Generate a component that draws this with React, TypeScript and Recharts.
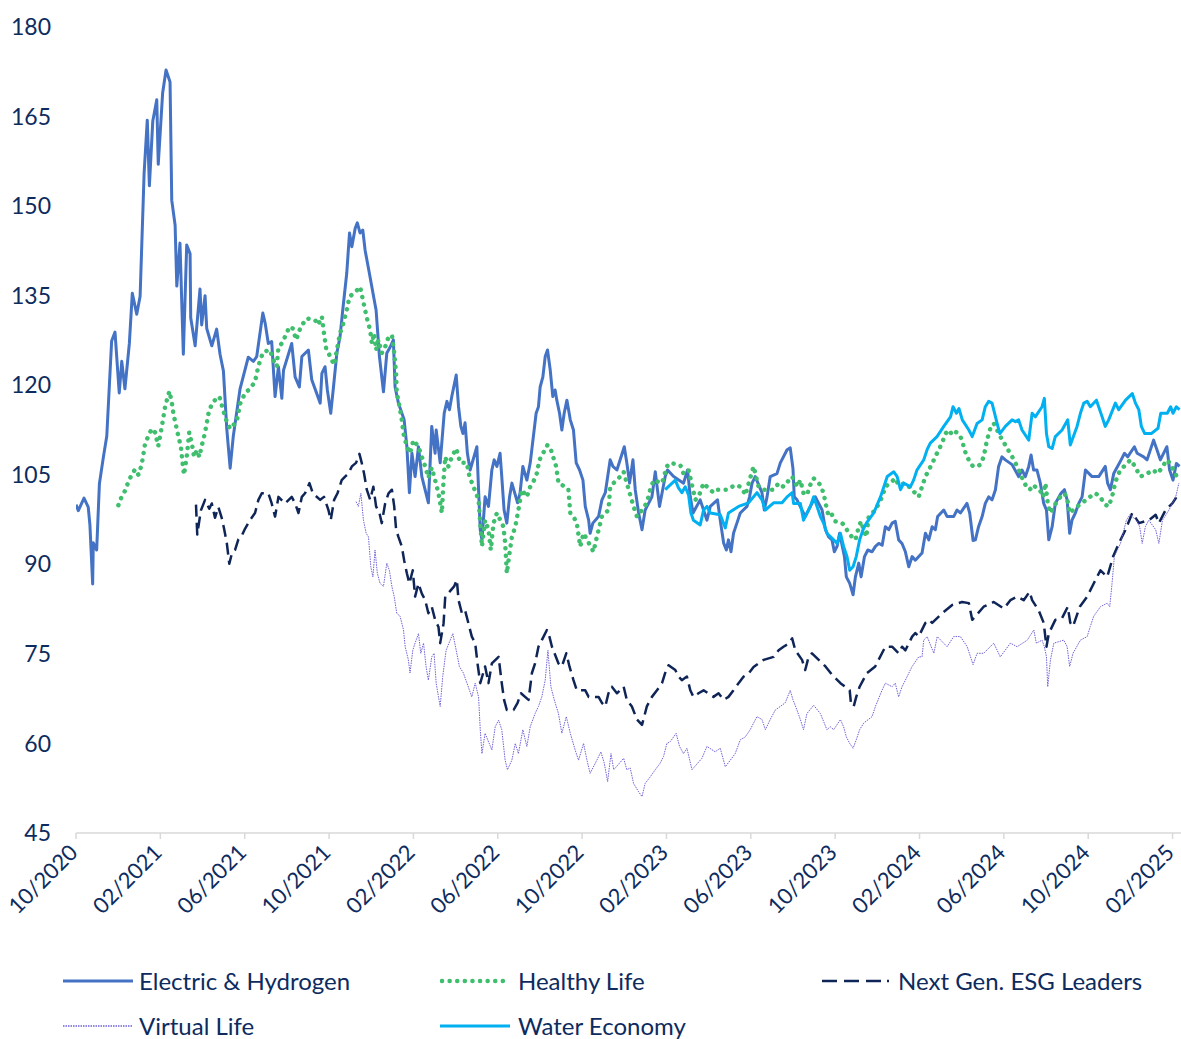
import React from 'react';
import { LineChart, Line, XAxis, YAxis, Legend } from 'recharts';

// x = months since 1 Oct 2020, y = index level (start = 100)
const electricHydrogen: [number, number][] = [
  [0, 100], [0.11, 99], [0.38, 101.1], [0.58, 99.6], [0.66, 96.6], [0.79, 86.7], [0.82, 93.6], [0.98, 92.4],
  [1.11, 103.5], [1.3, 108], [1.46, 111.5], [1.69, 127.4], [1.85, 128.9], [2.05, 118.7], [2.17, 124], [2.32, 119.4],
  [2.53, 127], [2.67, 135.4], [2.88, 131.9], [3.04, 134.9], [3.23, 155.5], [3.38, 164.4], [3.48, 153.4], [3.64, 164.2],
  [3.83, 167.8], [3.9, 157], [4.11, 169], [4.27, 172.8], [4.46, 170.8], [4.54, 151], [4.7, 146.8], [4.78, 136.6],
  [4.93, 143.8], [5.09, 125.2], [5.25, 143.5], [5.41, 142], [5.44, 131.3], [5.65, 126.6], [5.88, 136.1], [5.96, 130.1],
  [6.12, 135], [6.2, 129.5], [6.44, 126.6], [6.67, 129.4], [6.83, 125.2], [6.99, 122.4], [7.15, 112.7], [7.31, 106.1],
  [7.46, 111.5], [7.78, 119.4], [8.17, 124.7], [8.41, 124], [8.57, 124.8], [8.86, 132.1], [8.97, 130.4], [9.12, 127],
  [9.28, 127.3], [9.44, 118.1], [9.6, 123.1], [9.76, 117.8], [9.84, 122.5], [10.23, 127], [10.39, 121.4], [10.59, 119.7],
  [10.71, 124.8], [11.02, 125.9], [11.18, 120.9], [11.58, 117], [11.66, 122], [11.81, 123.1], [11.92, 119.2], [12.08, 115.3],
  [12.21, 119.7], [12.37, 125.4], [12.52, 128.1], [12.65, 132.6], [12.84, 138.8], [12.97, 145.5], [13.08, 143.2], [13.24, 146.3],
  [13.34, 147.2], [13.47, 145.5], [13.6, 146], [13.71, 142.6], [13.91, 138.8], [14.14, 134.3], [14.23, 132.6], [14.39, 124.8],
  [14.58, 118.9], [14.74, 125.4], [14.9, 126.4], [15.05, 127.6], [15.13, 119.7], [15.29, 117], [15.56, 114.2], [15.69, 109.7],
  [15.81, 102], [15.93, 108.6], [16.08, 104.7], [16.24, 109.7], [16.4, 104.7], [16.71, 100.3], [16.87, 113.1], [17.03, 108.6],
  [17.08, 112.5], [17.27, 107], [17.46, 115.3], [17.59, 117.3], [17.71, 115.9], [17.82, 118.1], [18.03, 121.7], [18.14, 116.4],
  [18.25, 113.1], [18.35, 111.9], [18.45, 113.7], [18.56, 108.6], [18.69, 105.8], [19.01, 109.7], [19.09, 102.5], [19.17, 95.8],
  [19.25, 94.1], [19.4, 101.3], [19.56, 99.7], [19.72, 105.8], [19.83, 107.5], [19.96, 106.4], [20.11, 108.6], [20.19, 104.7],
  [20.3, 99.1], [20.43, 96.9], [20.56, 101.3], [20.67, 103.6], [20.94, 100.3], [21.06, 102], [21.19, 106.4], [21.38, 104.1],
  [21.54, 107], [21.82, 115.3], [21.93, 116.4], [22.01, 119.7], [22.14, 121.4], [22.25, 124.8], [22.36, 125.9], [22.49, 122.5],
  [22.61, 118.1], [22.72, 119.2], [22.8, 117.5], [22.93, 115.3], [23.04, 112.5], [23.15, 115.3], [23.28, 117.5], [23.44, 114.2],
  [23.59, 112.5], [23.72, 107], [23.88, 105.8], [24.04, 104.1], [24.15, 99.7], [24.31, 97.4], [24.38, 95.2], [24.51, 96.9],
  [24.78, 98], [24.94, 100.8], [25.1, 102], [25.33, 107.5], [25.46, 106.4], [25.65, 105.8], [26, 109.7], [26.12, 107],
  [26.25, 103.6], [26.41, 107.5], [26.52, 102.5], [26.68, 98.6], [26.84, 95.8], [26.99, 99.1], [27.31, 101.3], [27.47, 105.5],
  [27.67, 99.7], [27.94, 104.7], [28.05, 105.8], [28.34, 104.7], [28.81, 103.6], [29, 105.8], [29.13, 101.3], [29.26, 98.6],
  [29.6, 100.8], [29.92, 97.4], [30.08, 99.7], [30.42, 100.8], [30.55, 97.4], [30.71, 93.6], [30.84, 92.4], [30.94, 94.1],
  [31.06, 92.1], [31.18, 95.2], [31.34, 96.9], [31.5, 98.6], [31.82, 99.7], [31.94, 101.3], [32.06, 103.6], [32.21, 104.7],
  [32.53, 102], [32.64, 99.1], [32.77, 101.3], [32.92, 104.7], [33.24, 105.2], [33.4, 107], [33.72, 109.2], [33.87, 109.5],
  [34, 106], [34.06, 101.3], [34.19, 100.8], [34.58, 98], [34.74, 99.1], [34.9, 100.2], [35.06, 101.3], [35.22, 100.2],
  [35.38, 99.1], [35.54, 95.8], [35.69, 94.6], [35.85, 94.1], [35.96, 92.1], [36.09, 93], [36.21, 95.2], [36.44, 91.3],
  [36.53, 87.9], [36.69, 86.8], [36.85, 84.9], [36.96, 87.9], [37.12, 90.2], [37.23, 87.9], [37.39, 91.3], [37.55, 92.4],
  [37.75, 92.1], [37.91, 93], [38.07, 93.5], [38.23, 93.2], [38.38, 96.3], [38.54, 95.8], [38.7, 96.9], [38.85, 97.2],
  [39.01, 94.1], [39.17, 93.5], [39.33, 92.1], [39.49, 89.6], [39.65, 91.3], [39.8, 90.7], [40.12, 91.9], [40.28, 95.2],
  [40.44, 94.1], [40.6, 96.3], [40.75, 95.8], [40.86, 98], [41.15, 99.1], [41.31, 98], [41.62, 98], [41.78, 99.1],
  [41.94, 98.6], [42.25, 100.2], [42.38, 98.6], [42.54, 94], [42.65, 94.1], [42.8, 96.3], [42.97, 98], [43.12, 100.2],
  [43.28, 101.3], [43.44, 100.8], [43.6, 102.5], [43.75, 106.4], [43.91, 108], [44.07, 107.5], [44.39, 106.7], [44.7, 104.7],
  [44.86, 105.8], [45.02, 104.7], [45.18, 106.4], [45.29, 108.3], [45.41, 105.8], [45.57, 105.8], [45.73, 103.6], [45.89, 100.2],
  [46.02, 99.1], [46.13, 94.1], [46.29, 96.3], [46.44, 100.2], [46.71, 101.9], [46.87, 102.5], [47, 100.8], [47.12, 95.2],
  [47.23, 97.4], [47.39, 98.6], [47.55, 100.2], [47.71, 101.3], [47.87, 105.8], [48.18, 104.7], [48.5, 104.7], [48.81, 106.4],
  [48.92, 103.6], [49.05, 102.5], [49.21, 105.2], [49.56, 107.5], [49.72, 108.6], [49.87, 108], [50.19, 109.7], [50.32, 108.6],
  [50.63, 108], [50.79, 107.5], [51.1, 110.8], [51.26, 109.2], [51.42, 107.5], [51.73, 109.7], [51.86, 105.8], [52.02, 104.1],
  [52.18, 106.9], [52.33, 106.4],
];

const healthyLife: [number, number][] = [
  [2.01, 99.9], [2.17, 101.4], [2.32, 102.3], [2.48, 103.8], [2.64, 105], [2.8, 105.9], [2.96, 105], [3.07, 106.2],
  [3.16, 107.6], [3.27, 110.1], [3.43, 111.5], [3.59, 112.7], [3.75, 112.1], [3.9, 109.8], [4.02, 112.1], [4.11, 113.9],
  [4.22, 116.3], [4.33, 117.8], [4.43, 119], [4.54, 117.2], [4.62, 115.2], [4.74, 113.3], [4.85, 111.5], [4.97, 109.8],
  [5.06, 106.8], [5.12, 105], [5.25, 108], [5.37, 112.1], [5.49, 110.3], [5.6, 108], [5.73, 109.1], [5.85, 108],
  [5.96, 109.8], [6.12, 112.1], [6.28, 115.2], [6.44, 116.9], [6.59, 117.5], [6.8, 118.1], [6.99, 115.7], [7.15, 113.9],
  [7.31, 112.7], [7.46, 113.3], [7.62, 113.9], [7.78, 116.9], [8.02, 118.7], [8.25, 119.4], [8.49, 120.6], [8.57, 122],
  [8.73, 124.2], [8.89, 125.6], [9.2, 125.9], [9.36, 124.2], [9.52, 123.1], [9.6, 126.4], [9.76, 127], [9.99, 128.7],
  [10.12, 129.8], [10.28, 129.5], [10.44, 127.6], [10.63, 129.5], [10.78, 130.4], [10.94, 131.2], [11.34, 130.9], [11.49, 130.1],
  [11.66, 131.5], [11.76, 128.7], [11.86, 126.2], [11.97, 125.4], [12.24, 123.4], [12.37, 125.9], [12.52, 128.7], [12.68, 130.4],
  [12.84, 132.6], [12.97, 134.8], [13.16, 135.4], [13.32, 135.9], [13.47, 136.5], [13.71, 132.6], [13.82, 130.9], [13.95, 129.2],
  [14.03, 127], [14.14, 128.7], [14.23, 125.9], [14.34, 127.6], [14.5, 125.4], [14.66, 126.4], [14.82, 128.1], [14.98, 128.4],
  [15.09, 125.4], [15.18, 122], [15.21, 118.6], [15.29, 117.5], [15.45, 114.2], [15.53, 111.9], [15.69, 109.7], [15.84, 108.6],
  [16, 110.8], [16.24, 109.7], [16.4, 108], [16.56, 106.4], [16.71, 104.5], [16.87, 106.2], [17.03, 104.1], [17.19, 101.9],
  [17.35, 98.6], [17.43, 104.1], [17.51, 108], [17.66, 106.4], [17.82, 108], [18.03, 109.4], [18.22, 107], [18.53, 107],
  [18.66, 104.7], [18.85, 103], [19.09, 100.8], [19.17, 96.9], [19.25, 93], [19.4, 97.4], [19.56, 95.8], [19.67, 92.4],
  [19.8, 96.9], [19.96, 98.6], [20.27, 96.3], [20.35, 93.6], [20.43, 88.5], [20.56, 91.9], [20.67, 94.6], [20.83, 96.3],
  [20.98, 99.1], [21.14, 102.5], [21.38, 101.3], [21.54, 103], [21.82, 104.7], [21.98, 107.5], [22.36, 110], [22.52, 109.2],
  [22.77, 106.4], [22.88, 103.6], [23.2, 103], [23.35, 102.5], [23.44, 98.6], [23.59, 98], [23.75, 96.9], [23.91, 93],
  [24.07, 95.2], [24.54, 92.1], [24.7, 94.6], [24.94, 98], [25.25, 99.1], [25.33, 102.8], [25.49, 103.6], [25.81, 104.7],
  [25.97, 105.5], [26.12, 103.6], [26.44, 99.7], [26.6, 98], [26.84, 99.1], [27.07, 100.3], [27.23, 102.5], [27.39, 104.1],
  [27.79, 103.6], [28.02, 106.4], [28.18, 107], [28.66, 106.6], [28.81, 105.2], [29.05, 105.8], [29.37, 100.8], [29.52, 101.3],
  [29.76, 103.6], [29.92, 103], [30.23, 102], [30.39, 102.5], [30.87, 102.5], [31.11, 103], [31.34, 103.3], [31.58, 102.8],
  [31.74, 101.6], [32.13, 106.4], [32.37, 103], [32.61, 102.5], [33.08, 102.5], [33.32, 103.6], [33.55, 103], [33.81, 104.1],
  [33.96, 104.7], [34.2, 103], [34.35, 104.1], [34.5, 101.9], [34.66, 101.6], [34.82, 103.3], [34.98, 104.4], [35.3, 103.3],
  [35.45, 101.9], [35.58, 99.7], [35.69, 98], [35.85, 98.3], [36.01, 97.2], [36.33, 96.9], [36.48, 96.3], [36.64, 95.2],
  [36.8, 94.6], [36.96, 94.1], [37.12, 96.3], [37.23, 97.2], [37.35, 95.8], [37.48, 94.6], [37.59, 98], [37.91, 99.1],
  [38.07, 100.2], [38.23, 101.3], [38.38, 103], [38.7, 103.9], [38.85, 104.4], [39.01, 103.3], [39.33, 103.6], [39.65, 102.5],
  [39.8, 101.9], [39.96, 101.3], [40.12, 103], [40.28, 104.7], [40.44, 105.8], [40.6, 106.9], [40.75, 108], [40.91, 109.2],
  [41.07, 110.3], [41.23, 111.9], [41.39, 112.5], [41.55, 111.7], [41.7, 112.2], [41.86, 111.9], [42.02, 110.8], [42.13, 109.2],
  [42.26, 108], [42.41, 107], [42.54, 106.4], [42.73, 106.4], [42.89, 106.7], [43.04, 108], [43.2, 110.8], [43.36, 112.8],
  [43.52, 113.6], [43.68, 112.5], [43.83, 111.4], [43.99, 110.5], [44.15, 109.4], [44.31, 108.6], [44.47, 107.5], [44.63, 106.4],
  [44.78, 105.2], [44.91, 104.1], [45.07, 103], [45.23, 102.5], [45.39, 103.3], [45.54, 102.8], [45.7, 102.5], [45.86, 101.3],
  [45.97, 103.6], [46.08, 100.2], [46.21, 98.6], [46.37, 99.7], [46.52, 100.5], [46.68, 101.3], [46.87, 101.9], [47, 101],
  [47.12, 98.6], [47.28, 99.1], [47.6, 100], [47.98, 101], [48.3, 101.9], [48.5, 101.6], [48.81, 100], [48.97, 99.7],
  [49.13, 101.3], [49.24, 103], [49.37, 104.7], [49.53, 105.8], [49.84, 106.9], [50, 107.5], [50.16, 106.7], [50.48, 104.7],
  [50.79, 105.2], [51.1, 105.8], [51.26, 105.2], [51.42, 105.8], [51.73, 107.5], [51.89, 106.9], [52.04, 105.8], [52.2, 104.7],
  [52.35, 104.1],
];

const nextGenEsg: [number, number][] = [
  [5.69, 100], [5.75, 95], [5.92, 99], [6.12, 100.8], [6.32, 99.3], [6.44, 100.2], [6.59, 97.8], [6.75, 99.6],
  [6.91, 97.8], [7.02, 96], [7.15, 93.6], [7.27, 90.1], [7.39, 91.8], [7.54, 92.4], [7.7, 94.2], [7.86, 94.8],
  [8.02, 96], [8.25, 97.4], [8.49, 98.6], [8.65, 100.8], [8.81, 101.9], [9.12, 101.9], [9.28, 100.2], [9.44, 98],
  [9.6, 101.3], [9.91, 100.2], [10.23, 101.3], [10.39, 100.2], [10.55, 98.6], [10.71, 101.3], [10.86, 101.9], [11.07, 103.6],
  [11.23, 101.9], [11.58, 100.8], [11.76, 101.3], [11.97, 99.1], [12.08, 97.4], [12.24, 100.8], [12.4, 101.9], [12.6, 104.1],
  [12.76, 104.7], [12.92, 105.2], [13.08, 106.4], [13.28, 107], [13.44, 108.5], [13.55, 107], [13.66, 105.2], [13.79, 102.5],
  [13.95, 100.8], [14.1, 103], [14.23, 99.7], [14.39, 98.6], [14.5, 96.9], [14.66, 100.2], [14.82, 101.9], [14.98, 102.5],
  [15.09, 99.7], [15.18, 95.8], [15.29, 94.6], [15.45, 93], [15.56, 90.7], [15.69, 88.5], [15.81, 86.8], [15.97, 89],
  [16.08, 84.6], [16.24, 86.8], [16.4, 85.1], [16.56, 84], [16.71, 81.8], [16.87, 82.9], [17.03, 80.7], [17.19, 79.5],
  [17.27, 76.8], [17.43, 80.1], [17.51, 84.6], [17.66, 85.2], [17.93, 86.3], [18.06, 87.4], [18.14, 84], [18.3, 81.8],
  [18.45, 82.3], [18.61, 80.1], [18.77, 77.9], [18.93, 76.8], [19.04, 73.4], [19.17, 70.1], [19.4, 72.9], [19.56, 70.1],
  [19.72, 73.4], [20.04, 74.5], [20.19, 70.1], [20.3, 67.3], [20.43, 65.6], [20.75, 65.6], [20.94, 66.8], [21.1, 68.4],
  [21.46, 67.3], [21.62, 71.8], [21.77, 73.4], [21.93, 76.2], [22.09, 77.3], [22.33, 79], [22.45, 77.9], [22.57, 76.2],
  [22.88, 73.4], [23.04, 72.9], [23.25, 75.1], [23.4, 72.9], [23.59, 70.6], [23.75, 68.9], [24.15, 68.9], [24.31, 67.8],
  [24.78, 67.8], [24.94, 66.8], [25.1, 66.2], [25.25, 68.4], [25.41, 69.5], [25.65, 68.4], [25.97, 69.5], [26.12, 67.3],
  [26.36, 66.2], [26.6, 64], [26.84, 63.1], [27.07, 66.2], [27.31, 67.8], [27.55, 68.9], [27.79, 70.1], [27.94, 71.8],
  [28.1, 73.1], [28.42, 72.3], [28.57, 71.2], [28.73, 70.6], [28.97, 71.2], [29.13, 68.9], [29.28, 67.8], [29.52, 68.4],
  [29.76, 68.9], [30.23, 67.8], [30.47, 68.4], [30.71, 67.3], [30.94, 67.8], [31.18, 68.9], [31.42, 70.1], [31.66, 71.2],
  [31.89, 71.7], [32.13, 72.8], [32.37, 73.4], [32.61, 74], [33.08, 74.5], [33.32, 75.6], [33.55, 76.2], [33.79, 76.7],
  [33.96, 77.6], [34.11, 75.6], [34.43, 74], [34.58, 72.3], [34.74, 74.5], [34.9, 75.1], [35.22, 74], [35.54, 72.9],
  [35.85, 71.5], [36.25, 70.1], [36.69, 68.9], [36.75, 66.7], [36.88, 66.2], [37, 67.8], [37.16, 69.5], [37.51, 71.8],
  [37.9, 72.9], [38.22, 75.1], [38.38, 76.2], [38.7, 76.2], [39.01, 75.1], [39.17, 76.2], [39.33, 75.6], [39.65, 77.9],
  [39.8, 78.5], [39.96, 77.9], [40.28, 80.2], [40.44, 80.7], [40.6, 80.2], [41.07, 81.8], [41.55, 83.2], [42.02, 83.7],
  [42.34, 83.5], [42.5, 80.7], [42.65, 81.3], [43.04, 82.9], [43.52, 83.7], [44, 82.6], [44.31, 84], [44.63, 84.6],
  [44.94, 84], [45.22, 85.4], [45.34, 84], [45.65, 82.3], [45.89, 80.2], [46.02, 76.2], [46.13, 78.4], [46.44, 80.7],
  [46.76, 81], [47.03, 82.9], [47.15, 80.2], [47.28, 79.6], [47.6, 82.9], [47.95, 84.6], [48.26, 86.8], [48.58, 89],
  [48.9, 87.9], [49.18, 91.3], [49.45, 93.5], [49.77, 95.8], [50.09, 98.6], [50.41, 96.9], [50.88, 97.4], [51.2, 98.3],
  [51.35, 96.9], [51.67, 99.1], [51.99, 100.2], [52.3, 101.9],
];

const virtualLife: [number, number][] = [
  [13.28, 100.5], [13.39, 99.7], [13.51, 101.9], [13.63, 97.4], [13.76, 95.2], [13.87, 94.6], [13.98, 89.6], [14.08, 87.9],
  [14.18, 92.4], [14.29, 88.5], [14.42, 86.8], [14.58, 86.3], [14.74, 90.2], [14.86, 89], [14.98, 86.3], [15.09, 84.6],
  [15.21, 81.8], [15.37, 81.3], [15.53, 79], [15.61, 76.2], [15.76, 74], [15.84, 71.8], [15.97, 75.6], [16.08, 76.8],
  [16.24, 78.4], [16.35, 75.1], [16.48, 76.8], [16.6, 72.9], [16.71, 70.6], [16.87, 74.5], [16.98, 75.1], [17.08, 70.1],
  [17.19, 67.8], [17.27, 66.2], [17.39, 71.2], [17.55, 75.6], [17.87, 78.4], [18.03, 75.6], [18.18, 72.9], [18.37, 71.8],
  [18.77, 67.8], [18.93, 70.1], [19.09, 67.8], [19.17, 62.3], [19.25, 58.3], [19.4, 61.7], [19.72, 58.9], [19.88, 62.8],
  [20.04, 63.9], [20.19, 62.3], [20.35, 57.2], [20.46, 55.6], [20.67, 57.2], [20.83, 60], [20.98, 58.3], [21.19, 62.3],
  [21.38, 59.5], [21.54, 62.8], [21.77, 65], [21.93, 66.2], [22.09, 67.8], [22.25, 70.6], [22.38, 75.6], [22.52, 69.5],
  [22.68, 67.3], [22.88, 65], [23.04, 61.7], [23.25, 64.5], [23.44, 61.7], [23.67, 58.9], [23.83, 57.2], [24.07, 60],
  [24.23, 57.2], [24.38, 55], [24.7, 57.2], [24.89, 58.6], [25.05, 56.7], [25.21, 53.6], [25.37, 58.3], [25.5, 55.6],
  [25.97, 57.5], [26.12, 55.6], [26.28, 55.9], [26.44, 53.3], [26.68, 51.9], [26.84, 51.1], [26.99, 53.3], [27.23, 54.4],
  [27.47, 55.6], [27.7, 56.7], [27.86, 57.8], [28.02, 60], [28.18, 60.3], [28.46, 61.7], [28.62, 59.5], [28.81, 58.3],
  [28.97, 59.2], [29.21, 55.6], [29.68, 57.5], [29.92, 59.5], [30.31, 58.6], [30.55, 59.2], [30.79, 56.1], [31.03, 57.2],
  [31.26, 58.3], [31.5, 60.6], [31.74, 61.1], [31.97, 62.3], [32.29, 64.5], [32.53, 64], [32.69, 62.3], [32.92, 64],
  [33.16, 65.6], [33.4, 66.2], [33.63, 66.8], [33.87, 68.9], [34, 67.3], [34.19, 65.6], [34.35, 64], [34.5, 62.3],
  [34.66, 65], [34.98, 66.4], [35.3, 65], [35.61, 62.3], [35.77, 62.8], [35.93, 62.3], [36.25, 64], [36.4, 62.8],
  [36.53, 61.1], [36.69, 60], [36.85, 59.2], [37, 60.6], [37.16, 62.3], [37.35, 63.4], [37.75, 64.5], [37.91, 66.2],
  [38.22, 68.9], [38.38, 70.1], [38.7, 69.5], [38.85, 70.1], [39.01, 67.8], [39.17, 69.5], [39.33, 70.6], [39.65, 72.9],
  [39.96, 74.5], [40.12, 74.5], [40.2, 77.3], [40.36, 77.9], [40.68, 75.1], [40.84, 77.9], [41.31, 76.2], [41.62, 77.9],
  [41.94, 77.9], [42.26, 76.2], [42.54, 73.2], [42.73, 75.1], [43.04, 75.1], [43.52, 76.8], [43.83, 74.5], [44.31, 76.8],
  [44.63, 76.2], [45.11, 77.3], [45.42, 79], [45.54, 76.8], [45.81, 77.3], [45.92, 76.2], [46.02, 74.5], [46.08, 69.5],
  [46.21, 74], [46.37, 76.8], [46.84, 77.3], [47, 76.2], [47.12, 72.9], [47.28, 75.1], [47.63, 77.3], [47.95, 77.9],
  [48.1, 79.6], [48.26, 81.3], [48.58, 82.9], [48.9, 83.5], [49.02, 82.9], [49.13, 86.8], [49.24, 91.3], [49.53, 93.5],
  [49.81, 97.4], [49.97, 98.3], [50.29, 97.4], [50.44, 96.3], [50.56, 93.5], [50.71, 96.3], [50.87, 97.4], [51.2, 95.8],
  [51.35, 93.5], [51.52, 97.4], [51.83, 99.1], [52.15, 101.3], [52.3, 103.6],
];

const waterEconomy: [number, number][] = [
  [27.94, 102.5], [28.18, 103.3], [28.42, 104.1], [28.57, 102.8], [28.73, 102], [28.89, 103], [29.05, 101.6], [29.16, 98.6],
  [29.28, 97.4], [29.6, 96.6], [29.76, 99.1], [29.92, 99.7], [30.08, 98.6], [30.55, 98.3], [30.79, 96.1], [30.94, 98.6],
  [31.42, 99.7], [31.89, 100.3], [32.29, 102], [32.53, 100.8], [32.69, 99.1], [33.08, 100.3], [33.48, 100.3], [33.72, 101.3],
  [33.96, 102], [34.03, 100.2], [34.35, 100.2], [34.5, 97.4], [34.82, 99.7], [34.98, 101.3], [35.14, 99.7], [35.3, 98],
  [35.45, 96.9], [35.61, 95.2], [35.93, 94.1], [36.09, 93.5], [36.25, 95.2], [36.4, 93], [36.56, 91.3], [36.69, 89],
  [36.85, 89.6], [37, 91.3], [37.16, 94.1], [37.32, 95.8], [37.48, 96.9], [37.83, 98.6], [38.15, 101.3], [38.31, 103],
  [38.47, 104.7], [38.78, 105.5], [38.94, 104.7], [39.1, 102.5], [39.25, 103.6], [39.57, 103], [39.72, 104.1], [39.88, 105.8],
  [40.2, 107.5], [40.36, 109.2], [40.51, 110.3], [40.83, 111.4], [41.15, 113.1], [41.47, 114.7], [41.59, 116.4], [41.75, 115.3],
  [41.87, 116.1], [42.03, 114.2], [42.34, 112.5], [42.5, 111.4], [42.73, 113.6], [42.97, 114.2], [43.12, 116.4], [43.28, 117.3],
  [43.44, 117], [43.68, 113.6], [43.81, 111.9], [44.07, 113.1], [44.39, 114.2], [44.55, 113.9], [44.7, 114.2], [44.86, 112.5],
  [45.18, 110.8], [45.34, 115.3], [45.49, 114.7], [45.81, 116.4], [45.92, 117.8], [46.02, 111.9], [46.13, 109.7], [46.29, 109.4],
  [46.44, 111.4], [46.76, 112.5], [47.03, 114.2], [47.15, 110], [47.47, 113.1], [47.63, 115.3], [47.79, 117], [47.95, 117.3],
  [48.1, 116.4], [48.39, 117.5], [48.66, 114.7], [48.81, 113.1], [48.97, 114.2], [49.29, 117], [49.45, 115.9], [49.77, 117.5],
  [50.09, 118.6], [50.24, 117], [50.4, 115.9], [50.52, 113.1], [50.68, 111.9], [50.99, 111.9], [51.31, 112.8], [51.44, 115.3],
  [51.75, 115.3], [51.91, 116.4], [52.02, 115.3], [52.18, 116.4], [52.33, 115.9],
];

const monthTicks = [0, 4, 8, 12, 16, 20, 24, 28, 32, 36, 40, 44, 48, 52];
const levelTicks = [45, 60, 75, 90, 105, 120, 135, 150, 165, 180];

const INK = '#0d2b5e';
const FONT = 'Lato, "Open Sans", sans-serif';

type Series = {
  key: string;
  name: string;
  points: [number, number][];
  color: string;
  width: number;
  dash?: string;
  cap?: 'round' | 'butt';
};

const SERIES: Series[] = [
  { key: 'eh', name: 'Electric & Hydrogen', points: electricHydrogen, color: '#4472c4', width: 3 },
  { key: 'hl', name: 'Healthy Life', points: healthyLife, color: '#3fbf6e', width: 4.5, dash: '0.1 7.5', cap: 'round' },
  { key: 'esg', name: 'Next Gen. ESG Leaders', points: nextGenEsg, color: '#0f2557', width: 2.5, dash: '12 6' },
  { key: 'vl', name: 'Virtual Life', points: virtualLife, color: '#6e62d6', width: 1, dash: '1.5 1' },
  { key: 'we', name: 'Water Economy', points: waterEconomy, color: '#00b0f0', width: 3 },
];

// merge the separate series into one table keyed by month
const rows = new Map<number, Record<string, number>>();
SERIES.forEach((s) =>
  s.points.forEach(([m, v]) => {
    const row = rows.get(m) ?? { m };
    row[s.key] = v;
    rows.set(m, row);
  })
);
const tableData = [...rows.values()].sort((a, b) => a.m - b.m);

const monthLabel = (m: number) => {
  const idx = 9 + Math.round(m);
  const month = (idx % 12) + 1;
  const year = 2020 + Math.floor(idx / 12);
  return `${String(month).padStart(2, '0')}/${year}`;
};

const DateTick = ({ x, y, payload }: any) => {
  const ax = x + 3;
  const ay = y + 13;
  return (
    <text
      x={ax}
      y={ay}
      transform={`rotate(-45 ${ax} ${ay})`}
      textAnchor="end"
      fill={INK}
      fontSize={22}
      fontFamily={FONT}
    >
      {monthLabel(payload.value)}
    </text>
  );
};

// legend slots: [sample start, sample end, text start, row]
const legendSlots = [
  [63, 133, 139, 0],
  [440, 510, 518, 0],
  [822, 890, 898, 0],
  [63, 133, 139, 1],
  [440, 510, 518, 1],
];

const LegendBox = () => (
  <div style={{ position: 'relative', width: 1181, height: 90, fontFamily: FONT, fontSize: 24, color: INK }}>
    {SERIES.map((s, i) => {
      const [x0, x1, tx, row] = legendSlots[i];
      const cy = row === 0 ? 32 : 77;
      return (
        <React.Fragment key={s.key}>
          <svg style={{ position: 'absolute', left: x0, top: cy - 5 }} width={x1 - x0} height={10}>
            <line
              x1={s.cap === 'round' ? 2 : 0}
              x2={x1 - x0}
              y1={5}
              y2={5}
              stroke={s.color}
              strokeWidth={s.key === 'vl' ? 1.5 : s.width}
              strokeDasharray={s.key === 'esg' ? '15 7 15 7 15 6 2 20' : s.dash}
              strokeLinecap={s.cap ?? 'butt'}
            />
          </svg>
          <span style={{ position: 'absolute', left: tx, top: cy - 15, lineHeight: '30px', whiteSpace: 'nowrap' }}>
            {s.name}
          </span>
        </React.Fragment>
      );
    })}
  </div>
);

export default function App() {
  return (
    <div style={{ position: 'absolute', left: 0, top: 0, width: 1181, height: 1039, background: '#fff' }}>
      <LineChart width={1181} height={1039} data={tableData} margin={{ top: 27, right: 0, bottom: 0, left: 0 }}>
        <XAxis
          dataKey="m"
          type="number"
          domain={[0, 52.4]}
          ticks={monthTicks}
          interval={0}
          height={116}
          stroke="#d9d9d9"
          strokeWidth={1.5}
          tickSize={6}
          tick={<DateTick />}
          allowDataOverflow
        />
        <YAxis
          type="number"
          domain={[45, 180]}
          ticks={levelTicks}
          interval={0}
          width={76}
          axisLine={false}
          tickLine={false}
          tickSize={0}
          tickMargin={25}
          tick={{ fill: INK, fontSize: 23, fontFamily: FONT }}
        />
        <Legend
          verticalAlign="bottom"
          content={() => <LegendBox />}
          wrapperStyle={{ left: 0, width: 1181, height: 90 }}
        />
        {SERIES.map((s) => (
          <Line
            key={s.key}
            dataKey={s.key}
            name={s.name}
            type="linear"
            stroke={s.color}
            strokeWidth={s.width}
            strokeDasharray={s.dash}
            strokeLinecap={s.cap ?? 'butt'}
            strokeLinejoin="round"
            dot={false}
            activeDot={false}
            connectNulls
            isAnimationActive={false}
          />
        ))}
      </LineChart>
    </div>
  );
}
